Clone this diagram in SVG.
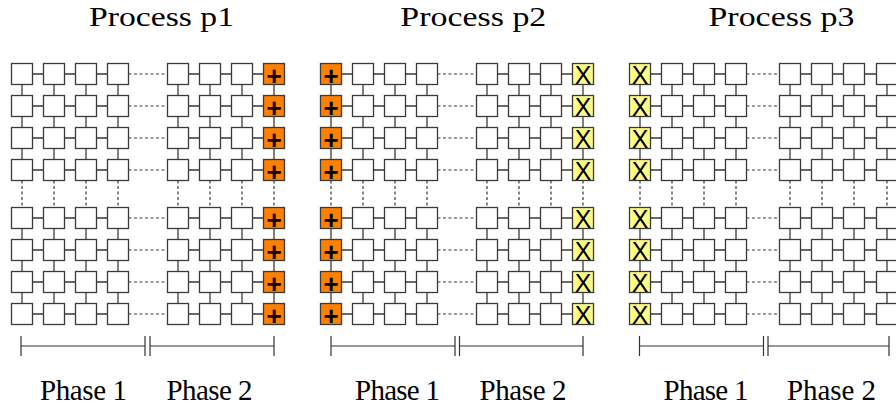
<svg xmlns="http://www.w3.org/2000/svg" xmlns:xlink="http://www.w3.org/1999/xlink" width="896" height="410" viewBox="0 0 896 410">
<style>
.box{fill:#fff;stroke:#3a3a3a;stroke-width:1.3}
.or{fill:#ff8000;stroke:#3a3a3a;stroke-width:1.3}
.ye{fill:#ffff88;stroke:#3a3a3a;stroke-width:1.3}
.c{fill:none;stroke:#3a3a3a;stroke-width:1.3}
.d{fill:none;stroke:#3a3a3a;stroke-width:1.2;stroke-dasharray:3 2.5}
.br{fill:none;stroke:#333;stroke-width:1.2}
.plus{font-family:"Liberation Sans",Arial,sans-serif;font-size:26px;font-weight:bold;text-anchor:middle;fill:#000}
.x{font-family:"Liberation Sans",Arial,sans-serif;font-size:25px;text-anchor:middle;fill:#000}
.title{font-family:"Liberation Serif","Times New Roman",serif;font-size:28px;text-anchor:middle;fill:#000}
.ph{font-family:"Liberation Serif","Times New Roman",serif;font-size:29px;text-anchor:middle;fill:#000}
</style>
<defs>
<rect id="b" class="box" width="21" height="21"/>
<rect id="bo" class="or" width="21" height="21"/>
<rect id="by" class="ye" width="21" height="21"/>
<path id="h1" d="M32.5 0h11M64.5 0h11M96.5 0h11M188.5 0h11M220.5 0h11M252.5 0h11"/>
<path id="h2" d="M341.5 0h11M373.5 0h11M405.5 0h11M497.5 0h11M529.5 0h11M561.5 0h11"/>
<path id="h3" d="M650.5 0h11M682.5 0h11M714.5 0h11M800.5 0h11M832.5 0h11M864.5 0h12"/>
<path id="hd1" d="M128.5 0H167.5"/>
<path id="hd2" d="M437.5 0H476.5"/>
<path id="hd3" d="M746.5 0H779.5"/>
<path id="v" d="M0 84.5v11M0 116.5v11M0 148.5v11M0 228.5v11M0 260.5v11M0 292.5v11"/>
<path id="vd" d="M0 180.5V207.5"/>
</defs>

<g id="connectors">
<g class="c">
<use href="#h1" y="74"/><use href="#h1" y="106"/><use href="#h1" y="138"/><use href="#h1" y="170"/><use href="#h1" y="218"/><use href="#h1" y="250"/><use href="#h1" y="282"/><use href="#h1" y="314"/>
<use href="#h2" y="74"/><use href="#h2" y="106"/><use href="#h2" y="138"/><use href="#h2" y="170"/><use href="#h2" y="218"/><use href="#h2" y="250"/><use href="#h2" y="282"/><use href="#h2" y="314"/>
<use href="#h3" y="74"/><use href="#h3" y="106"/><use href="#h3" y="138"/><use href="#h3" y="170"/><use href="#h3" y="218"/><use href="#h3" y="250"/><use href="#h3" y="282"/><use href="#h3" y="314"/>
<use href="#v" x="22"/><use href="#v" x="54"/><use href="#v" x="86"/><use href="#v" x="118"/><use href="#v" x="178"/><use href="#v" x="210"/><use href="#v" x="242"/><use href="#v" x="274"/>
<use href="#v" x="331"/><use href="#v" x="363"/><use href="#v" x="395"/><use href="#v" x="427"/><use href="#v" x="487"/><use href="#v" x="519"/><use href="#v" x="551"/><use href="#v" x="583"/>
<use href="#v" x="640"/><use href="#v" x="672"/><use href="#v" x="704"/><use href="#v" x="736"/><use href="#v" x="790"/><use href="#v" x="822"/><use href="#v" x="854"/><use href="#v" x="887"/>
</g>
<g class="d">
<use href="#hd1" y="74"/><use href="#hd1" y="106"/><use href="#hd1" y="138"/><use href="#hd1" y="170"/><use href="#hd1" y="218"/><use href="#hd1" y="250"/><use href="#hd1" y="282"/><use href="#hd1" y="314"/>
<use href="#hd2" y="74"/><use href="#hd2" y="106"/><use href="#hd2" y="138"/><use href="#hd2" y="170"/><use href="#hd2" y="218"/><use href="#hd2" y="250"/><use href="#hd2" y="282"/><use href="#hd2" y="314"/>
<use href="#hd3" y="74"/><use href="#hd3" y="106"/><use href="#hd3" y="138"/><use href="#hd3" y="170"/><use href="#hd3" y="218"/><use href="#hd3" y="250"/><use href="#hd3" y="282"/><use href="#hd3" y="314"/>
<use href="#vd" x="22"/><use href="#vd" x="54"/><use href="#vd" x="86"/><use href="#vd" x="118"/><use href="#vd" x="178"/><use href="#vd" x="210"/><use href="#vd" x="242"/><use href="#vd" x="274"/>
<use href="#vd" x="331"/><use href="#vd" x="363"/><use href="#vd" x="395"/><use href="#vd" x="427"/><use href="#vd" x="487"/><use href="#vd" x="519"/><use href="#vd" x="551"/><use href="#vd" x="583"/>
<use href="#vd" x="640"/><use href="#vd" x="672"/><use href="#vd" x="704"/><use href="#vd" x="736"/><use href="#vd" x="790"/><use href="#vd" x="822"/><use href="#vd" x="854"/><use href="#vd" x="887"/>
</g>
</g>

<g id="process-p1">
<g id="p1-r1-c1"><use href="#b" x="11.5" y="63.5"/></g><g id="p1-r1-c2"><use href="#b" x="43.5" y="63.5"/></g><g id="p1-r1-c3"><use href="#b" x="75.5" y="63.5"/></g><g id="p1-r1-c4"><use href="#b" x="107.5" y="63.5"/></g><g id="p1-r1-c5"><use href="#b" x="167.5" y="63.5"/></g><g id="p1-r1-c6"><use href="#b" x="199.5" y="63.5"/></g><g id="p1-r1-c7"><use href="#b" x="231.5" y="63.5"/></g><g id="p1-r1-c8"><use href="#bo" x="263.5" y="63.5"/><text class="plus" x="274" y="84.5">+</text></g>
<g id="p1-r2-c1"><use href="#b" x="11.5" y="95.5"/></g><g id="p1-r2-c2"><use href="#b" x="43.5" y="95.5"/></g><g id="p1-r2-c3"><use href="#b" x="75.5" y="95.5"/></g><g id="p1-r2-c4"><use href="#b" x="107.5" y="95.5"/></g><g id="p1-r2-c5"><use href="#b" x="167.5" y="95.5"/></g><g id="p1-r2-c6"><use href="#b" x="199.5" y="95.5"/></g><g id="p1-r2-c7"><use href="#b" x="231.5" y="95.5"/></g><g id="p1-r2-c8"><use href="#bo" x="263.5" y="95.5"/><text class="plus" x="274" y="116.5">+</text></g>
<g id="p1-r3-c1"><use href="#b" x="11.5" y="127.5"/></g><g id="p1-r3-c2"><use href="#b" x="43.5" y="127.5"/></g><g id="p1-r3-c3"><use href="#b" x="75.5" y="127.5"/></g><g id="p1-r3-c4"><use href="#b" x="107.5" y="127.5"/></g><g id="p1-r3-c5"><use href="#b" x="167.5" y="127.5"/></g><g id="p1-r3-c6"><use href="#b" x="199.5" y="127.5"/></g><g id="p1-r3-c7"><use href="#b" x="231.5" y="127.5"/></g><g id="p1-r3-c8"><use href="#bo" x="263.5" y="127.5"/><text class="plus" x="274" y="148.5">+</text></g>
<g id="p1-r4-c1"><use href="#b" x="11.5" y="159.5"/></g><g id="p1-r4-c2"><use href="#b" x="43.5" y="159.5"/></g><g id="p1-r4-c3"><use href="#b" x="75.5" y="159.5"/></g><g id="p1-r4-c4"><use href="#b" x="107.5" y="159.5"/></g><g id="p1-r4-c5"><use href="#b" x="167.5" y="159.5"/></g><g id="p1-r4-c6"><use href="#b" x="199.5" y="159.5"/></g><g id="p1-r4-c7"><use href="#b" x="231.5" y="159.5"/></g><g id="p1-r4-c8"><use href="#bo" x="263.5" y="159.5"/><text class="plus" x="274" y="180.5">+</text></g>
<g id="p1-r5-c1"><use href="#b" x="11.5" y="207.5"/></g><g id="p1-r5-c2"><use href="#b" x="43.5" y="207.5"/></g><g id="p1-r5-c3"><use href="#b" x="75.5" y="207.5"/></g><g id="p1-r5-c4"><use href="#b" x="107.5" y="207.5"/></g><g id="p1-r5-c5"><use href="#b" x="167.5" y="207.5"/></g><g id="p1-r5-c6"><use href="#b" x="199.5" y="207.5"/></g><g id="p1-r5-c7"><use href="#b" x="231.5" y="207.5"/></g><g id="p1-r5-c8"><use href="#bo" x="263.5" y="207.5"/><text class="plus" x="274" y="228.5">+</text></g>
<g id="p1-r6-c1"><use href="#b" x="11.5" y="239.5"/></g><g id="p1-r6-c2"><use href="#b" x="43.5" y="239.5"/></g><g id="p1-r6-c3"><use href="#b" x="75.5" y="239.5"/></g><g id="p1-r6-c4"><use href="#b" x="107.5" y="239.5"/></g><g id="p1-r6-c5"><use href="#b" x="167.5" y="239.5"/></g><g id="p1-r6-c6"><use href="#b" x="199.5" y="239.5"/></g><g id="p1-r6-c7"><use href="#b" x="231.5" y="239.5"/></g><g id="p1-r6-c8"><use href="#bo" x="263.5" y="239.5"/><text class="plus" x="274" y="260.5">+</text></g>
<g id="p1-r7-c1"><use href="#b" x="11.5" y="271.5"/></g><g id="p1-r7-c2"><use href="#b" x="43.5" y="271.5"/></g><g id="p1-r7-c3"><use href="#b" x="75.5" y="271.5"/></g><g id="p1-r7-c4"><use href="#b" x="107.5" y="271.5"/></g><g id="p1-r7-c5"><use href="#b" x="167.5" y="271.5"/></g><g id="p1-r7-c6"><use href="#b" x="199.5" y="271.5"/></g><g id="p1-r7-c7"><use href="#b" x="231.5" y="271.5"/></g><g id="p1-r7-c8"><use href="#bo" x="263.5" y="271.5"/><text class="plus" x="274" y="292.5">+</text></g>
<g id="p1-r8-c1"><use href="#b" x="11.5" y="303.5"/></g><g id="p1-r8-c2"><use href="#b" x="43.5" y="303.5"/></g><g id="p1-r8-c3"><use href="#b" x="75.5" y="303.5"/></g><g id="p1-r8-c4"><use href="#b" x="107.5" y="303.5"/></g><g id="p1-r8-c5"><use href="#b" x="167.5" y="303.5"/></g><g id="p1-r8-c6"><use href="#b" x="199.5" y="303.5"/></g><g id="p1-r8-c7"><use href="#b" x="231.5" y="303.5"/></g><g id="p1-r8-c8"><use href="#bo" x="263.5" y="303.5"/><text class="plus" x="274" y="324.5">+</text></g>
</g>

<g id="process-p2">
<g id="p2-r1-c1"><use href="#bo" x="320.5" y="63.5"/><text class="plus" x="331" y="84.5">+</text></g><g id="p2-r1-c2"><use href="#b" x="352.5" y="63.5"/></g><g id="p2-r1-c3"><use href="#b" x="384.5" y="63.5"/></g><g id="p2-r1-c4"><use href="#b" x="416.5" y="63.5"/></g><g id="p2-r1-c5"><use href="#b" x="476.5" y="63.5"/></g><g id="p2-r1-c6"><use href="#b" x="508.5" y="63.5"/></g><g id="p2-r1-c7"><use href="#b" x="540.5" y="63.5"/></g><g id="p2-r1-c8"><use href="#by" x="572.5" y="63.5"/><text class="x" x="583" y="84">X</text></g>
<g id="p2-r2-c1"><use href="#bo" x="320.5" y="95.5"/><text class="plus" x="331" y="116.5">+</text></g><g id="p2-r2-c2"><use href="#b" x="352.5" y="95.5"/></g><g id="p2-r2-c3"><use href="#b" x="384.5" y="95.5"/></g><g id="p2-r2-c4"><use href="#b" x="416.5" y="95.5"/></g><g id="p2-r2-c5"><use href="#b" x="476.5" y="95.5"/></g><g id="p2-r2-c6"><use href="#b" x="508.5" y="95.5"/></g><g id="p2-r2-c7"><use href="#b" x="540.5" y="95.5"/></g><g id="p2-r2-c8"><use href="#by" x="572.5" y="95.5"/><text class="x" x="583" y="116">X</text></g>
<g id="p2-r3-c1"><use href="#bo" x="320.5" y="127.5"/><text class="plus" x="331" y="148.5">+</text></g><g id="p2-r3-c2"><use href="#b" x="352.5" y="127.5"/></g><g id="p2-r3-c3"><use href="#b" x="384.5" y="127.5"/></g><g id="p2-r3-c4"><use href="#b" x="416.5" y="127.5"/></g><g id="p2-r3-c5"><use href="#b" x="476.5" y="127.5"/></g><g id="p2-r3-c6"><use href="#b" x="508.5" y="127.5"/></g><g id="p2-r3-c7"><use href="#b" x="540.5" y="127.5"/></g><g id="p2-r3-c8"><use href="#by" x="572.5" y="127.5"/><text class="x" x="583" y="148">X</text></g>
<g id="p2-r4-c1"><use href="#bo" x="320.5" y="159.5"/><text class="plus" x="331" y="180.5">+</text></g><g id="p2-r4-c2"><use href="#b" x="352.5" y="159.5"/></g><g id="p2-r4-c3"><use href="#b" x="384.5" y="159.5"/></g><g id="p2-r4-c4"><use href="#b" x="416.5" y="159.5"/></g><g id="p2-r4-c5"><use href="#b" x="476.5" y="159.5"/></g><g id="p2-r4-c6"><use href="#b" x="508.5" y="159.5"/></g><g id="p2-r4-c7"><use href="#b" x="540.5" y="159.5"/></g><g id="p2-r4-c8"><use href="#by" x="572.5" y="159.5"/><text class="x" x="583" y="180">X</text></g>
<g id="p2-r5-c1"><use href="#bo" x="320.5" y="207.5"/><text class="plus" x="331" y="228.5">+</text></g><g id="p2-r5-c2"><use href="#b" x="352.5" y="207.5"/></g><g id="p2-r5-c3"><use href="#b" x="384.5" y="207.5"/></g><g id="p2-r5-c4"><use href="#b" x="416.5" y="207.5"/></g><g id="p2-r5-c5"><use href="#b" x="476.5" y="207.5"/></g><g id="p2-r5-c6"><use href="#b" x="508.5" y="207.5"/></g><g id="p2-r5-c7"><use href="#b" x="540.5" y="207.5"/></g><g id="p2-r5-c8"><use href="#by" x="572.5" y="207.5"/><text class="x" x="583" y="228">X</text></g>
<g id="p2-r6-c1"><use href="#bo" x="320.5" y="239.5"/><text class="plus" x="331" y="260.5">+</text></g><g id="p2-r6-c2"><use href="#b" x="352.5" y="239.5"/></g><g id="p2-r6-c3"><use href="#b" x="384.5" y="239.5"/></g><g id="p2-r6-c4"><use href="#b" x="416.5" y="239.5"/></g><g id="p2-r6-c5"><use href="#b" x="476.5" y="239.5"/></g><g id="p2-r6-c6"><use href="#b" x="508.5" y="239.5"/></g><g id="p2-r6-c7"><use href="#b" x="540.5" y="239.5"/></g><g id="p2-r6-c8"><use href="#by" x="572.5" y="239.5"/><text class="x" x="583" y="260">X</text></g>
<g id="p2-r7-c1"><use href="#bo" x="320.5" y="271.5"/><text class="plus" x="331" y="292.5">+</text></g><g id="p2-r7-c2"><use href="#b" x="352.5" y="271.5"/></g><g id="p2-r7-c3"><use href="#b" x="384.5" y="271.5"/></g><g id="p2-r7-c4"><use href="#b" x="416.5" y="271.5"/></g><g id="p2-r7-c5"><use href="#b" x="476.5" y="271.5"/></g><g id="p2-r7-c6"><use href="#b" x="508.5" y="271.5"/></g><g id="p2-r7-c7"><use href="#b" x="540.5" y="271.5"/></g><g id="p2-r7-c8"><use href="#by" x="572.5" y="271.5"/><text class="x" x="583" y="292">X</text></g>
<g id="p2-r8-c1"><use href="#bo" x="320.5" y="303.5"/><text class="plus" x="331" y="324.5">+</text></g><g id="p2-r8-c2"><use href="#b" x="352.5" y="303.5"/></g><g id="p2-r8-c3"><use href="#b" x="384.5" y="303.5"/></g><g id="p2-r8-c4"><use href="#b" x="416.5" y="303.5"/></g><g id="p2-r8-c5"><use href="#b" x="476.5" y="303.5"/></g><g id="p2-r8-c6"><use href="#b" x="508.5" y="303.5"/></g><g id="p2-r8-c7"><use href="#b" x="540.5" y="303.5"/></g><g id="p2-r8-c8"><use href="#by" x="572.5" y="303.5"/><text class="x" x="583" y="324">X</text></g>
</g>

<g id="process-p3">
<g id="p3-r1-c1"><use href="#by" x="629.5" y="63.5"/><text class="x" x="640" y="84">X</text></g><g id="p3-r1-c2"><use href="#b" x="661.5" y="63.5"/></g><g id="p3-r1-c3"><use href="#b" x="693.5" y="63.5"/></g><g id="p3-r1-c4"><use href="#b" x="725.5" y="63.5"/></g><g id="p3-r1-c5"><use href="#b" x="779.5" y="63.5"/></g><g id="p3-r1-c6"><use href="#b" x="811.5" y="63.5"/></g><g id="p3-r1-c7"><use href="#b" x="843.5" y="63.5"/></g><g id="p3-r1-c8"><use href="#b" x="876.5" y="63.5"/></g>
<g id="p3-r2-c1"><use href="#by" x="629.5" y="95.5"/><text class="x" x="640" y="116">X</text></g><g id="p3-r2-c2"><use href="#b" x="661.5" y="95.5"/></g><g id="p3-r2-c3"><use href="#b" x="693.5" y="95.5"/></g><g id="p3-r2-c4"><use href="#b" x="725.5" y="95.5"/></g><g id="p3-r2-c5"><use href="#b" x="779.5" y="95.5"/></g><g id="p3-r2-c6"><use href="#b" x="811.5" y="95.5"/></g><g id="p3-r2-c7"><use href="#b" x="843.5" y="95.5"/></g><g id="p3-r2-c8"><use href="#b" x="876.5" y="95.5"/></g>
<g id="p3-r3-c1"><use href="#by" x="629.5" y="127.5"/><text class="x" x="640" y="148">X</text></g><g id="p3-r3-c2"><use href="#b" x="661.5" y="127.5"/></g><g id="p3-r3-c3"><use href="#b" x="693.5" y="127.5"/></g><g id="p3-r3-c4"><use href="#b" x="725.5" y="127.5"/></g><g id="p3-r3-c5"><use href="#b" x="779.5" y="127.5"/></g><g id="p3-r3-c6"><use href="#b" x="811.5" y="127.5"/></g><g id="p3-r3-c7"><use href="#b" x="843.5" y="127.5"/></g><g id="p3-r3-c8"><use href="#b" x="876.5" y="127.5"/></g>
<g id="p3-r4-c1"><use href="#by" x="629.5" y="159.5"/><text class="x" x="640" y="180">X</text></g><g id="p3-r4-c2"><use href="#b" x="661.5" y="159.5"/></g><g id="p3-r4-c3"><use href="#b" x="693.5" y="159.5"/></g><g id="p3-r4-c4"><use href="#b" x="725.5" y="159.5"/></g><g id="p3-r4-c5"><use href="#b" x="779.5" y="159.5"/></g><g id="p3-r4-c6"><use href="#b" x="811.5" y="159.5"/></g><g id="p3-r4-c7"><use href="#b" x="843.5" y="159.5"/></g><g id="p3-r4-c8"><use href="#b" x="876.5" y="159.5"/></g>
<g id="p3-r5-c1"><use href="#by" x="629.5" y="207.5"/><text class="x" x="640" y="228">X</text></g><g id="p3-r5-c2"><use href="#b" x="661.5" y="207.5"/></g><g id="p3-r5-c3"><use href="#b" x="693.5" y="207.5"/></g><g id="p3-r5-c4"><use href="#b" x="725.5" y="207.5"/></g><g id="p3-r5-c5"><use href="#b" x="779.5" y="207.5"/></g><g id="p3-r5-c6"><use href="#b" x="811.5" y="207.5"/></g><g id="p3-r5-c7"><use href="#b" x="843.5" y="207.5"/></g><g id="p3-r5-c8"><use href="#b" x="876.5" y="207.5"/></g>
<g id="p3-r6-c1"><use href="#by" x="629.5" y="239.5"/><text class="x" x="640" y="260">X</text></g><g id="p3-r6-c2"><use href="#b" x="661.5" y="239.5"/></g><g id="p3-r6-c3"><use href="#b" x="693.5" y="239.5"/></g><g id="p3-r6-c4"><use href="#b" x="725.5" y="239.5"/></g><g id="p3-r6-c5"><use href="#b" x="779.5" y="239.5"/></g><g id="p3-r6-c6"><use href="#b" x="811.5" y="239.5"/></g><g id="p3-r6-c7"><use href="#b" x="843.5" y="239.5"/></g><g id="p3-r6-c8"><use href="#b" x="876.5" y="239.5"/></g>
<g id="p3-r7-c1"><use href="#by" x="629.5" y="271.5"/><text class="x" x="640" y="292">X</text></g><g id="p3-r7-c2"><use href="#b" x="661.5" y="271.5"/></g><g id="p3-r7-c3"><use href="#b" x="693.5" y="271.5"/></g><g id="p3-r7-c4"><use href="#b" x="725.5" y="271.5"/></g><g id="p3-r7-c5"><use href="#b" x="779.5" y="271.5"/></g><g id="p3-r7-c6"><use href="#b" x="811.5" y="271.5"/></g><g id="p3-r7-c7"><use href="#b" x="843.5" y="271.5"/></g><g id="p3-r7-c8"><use href="#b" x="876.5" y="271.5"/></g>
<g id="p3-r8-c1"><use href="#by" x="629.5" y="303.5"/><text class="x" x="640" y="324">X</text></g><g id="p3-r8-c2"><use href="#b" x="661.5" y="303.5"/></g><g id="p3-r8-c3"><use href="#b" x="693.5" y="303.5"/></g><g id="p3-r8-c4"><use href="#b" x="725.5" y="303.5"/></g><g id="p3-r8-c5"><use href="#b" x="779.5" y="303.5"/></g><g id="p3-r8-c6"><use href="#b" x="811.5" y="303.5"/></g><g id="p3-r8-c7"><use href="#b" x="843.5" y="303.5"/></g><g id="p3-r8-c8"><use href="#b" x="876.5" y="303.5"/></g>
</g>

<g id="brackets" class="br">
<path d="M21 336v20M145 336v20M150 336v20M274 336v20M21 346H145M150 346H274"/>
<path d="M331 336v20M455 336v20M459.5 336v20M583 336v20M331 346H455M459.5 346H583"/>
<path d="M639.5 336v20M763.5 336v20M768 336v20M889 336v20M639.5 346H763.5M768 346H889"/>
</g>

<g id="labels">
<text class="title" x="161.5" y="26" textLength="145" lengthAdjust="spacingAndGlyphs">Process p1</text>
<text class="title" x="473.3" y="26" textLength="146" lengthAdjust="spacingAndGlyphs">Process p2</text>
<text class="title" x="781.5" y="26" textLength="146" lengthAdjust="spacingAndGlyphs">Process p3</text>
<text class="ph" x="83.5" y="400" textLength="87">Phase 1</text>
<text class="ph" x="209.5" y="400" textLength="86">Phase 2</text>
<text class="ph" x="397.5" y="400" textLength="85">Phase 1</text>
<text class="ph" x="523" y="400" textLength="87">Phase 2</text>
<text class="ph" x="706" y="400" textLength="85">Phase 1</text>
<text class="ph" x="831.5" y="400" textLength="89">Phase 2</text>
</g>
</svg>
